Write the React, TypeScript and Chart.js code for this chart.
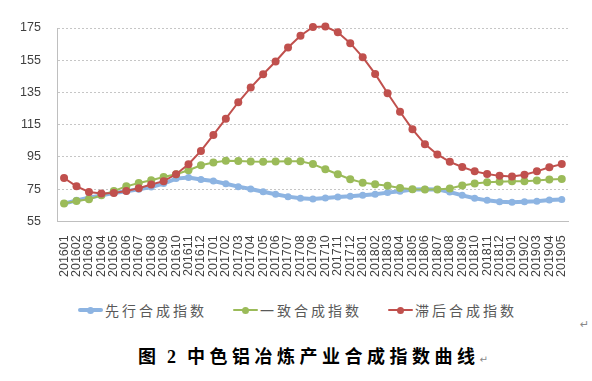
import React, { useEffect, useRef } from "react";
import { Chart, registerables } from "chart.js";

Chart.register(...registerables);

const months = [
  "201601", "201602", "201603", "201604", "201605", "201606", "201607", "201608", "201609", "201610", "201611", "201612",
  "201701", "201702", "201703", "201704", "201705", "201706", "201707", "201708", "201709", "201710", "201711", "201712",
  "201801", "201802", "201803", "201804", "201805", "201806", "201807", "201808", "201809", "201810", "201811", "201812",
  "201901", "201902", "201903", "201904", "201905",
];

const leadIndex = [
  66, 68, 69.7, 71.1, 72.6, 73.6, 74.9, 76.3, 78.4, 81.5, 82.2, 81, 80, 78.3, 76.5, 75, 73.3, 71.8, 70.3, 69.3,
  68.9, 69.5, 70.1, 70.5, 71.1, 71.8, 72.8, 73.6, 74.7, 74.9, 74.8, 73.2, 71.1, 69.3, 68, 67.2, 66.8, 67.1, 67.5, 68.2, 68.6,
];

const coincidentIndex = [
  66, 67.6, 68.7, 71.1, 73.8, 76.7, 78.8, 80.5, 82.5, 84.2, 86.7, 89.8, 91.5, 92.6, 92.4, 92.1, 92, 92.1, 92.3, 92.2,
  90.5, 87.3, 84.2, 81.1, 79, 78, 77, 75.7, 74.9, 74.7, 74.7, 75.3, 77.2, 78.4, 79.2, 79.6, 79.8, 79.8, 80.3, 80.9, 81.3,
];

const laggingIndex = [
  81.9, 76.7, 73.2, 72.2, 72.6, 73.8, 75.5, 77.8, 79.9, 84.2, 90.4, 98.7, 108.6, 118.7, 128.9, 138, 146.3, 154.2, 162.9, 170.2,
  175.6, 175.9, 172.3, 165.6, 156.9, 146.5, 134.5, 123, 112.1, 102.9, 96.5, 91.9, 88.7, 86, 84.4, 83.2, 82.8, 83.9, 86, 88.5, 90.5,
];

const seriesNames = ["先行合成指数", "一致合成指数", "滞后合成指数"];
const yMin = 55;
const yMax = 175;
const yStep = 20;
const captionHead = "图";
const captionNum = "2";
const captionBody = "中色铝冶炼产业合成指数曲线";

const BLUE = "#8db4e2";
const GREEN = "#9bbb59";
const RED = "#c0504d";

function LegendItem(props: { left: number; color: string; thick: number; label: string }) {
  const { left, color, thick, label } = props;
  return (
    <div style={{ position: "absolute", left, top: 300, height: 20, display: "flex", alignItems: "center" }}>
      <div style={{ position: "relative", width: 25, height: 20 }}>
        <div style={{ position: "absolute", left: 0, width: 25, top: 10 - thick / 2, height: thick, background: color, borderRadius: thick / 2 }} />
        <div style={{ position: "absolute", left: 12.5 - 3.5, top: 10 - 3.5, width: 7, height: 7, borderRadius: 4, background: color }} />
      </div>
      <span style={{ marginLeft: 2, fontFamily: '"Noto Sans CJK SC", sans-serif', fontSize: 14, letterSpacing: 3, color: "#595959", lineHeight: "20px", whiteSpace: "nowrap" }}>
        {label}
      </span>
    </div>
  );
}

export default function App() {
  const ref = useRef<HTMLCanvasElement>(null);

  useEffect(() => {
    const tickFont = { family: '"Liberation Sans", Arial, sans-serif', size: 12.5 };
    const chart = new Chart(ref.current!, {
      type: "line",
      data: {
        labels: months,
        datasets: [
          {
            label: seriesNames[0], data: leadIndex, borderColor: BLUE, backgroundColor: BLUE,
            borderWidth: 4, pointRadius: 3.5, pointBorderWidth: 0, pointBackgroundColor: BLUE, order: 2, clip: false as any,
          },
          {
            label: seriesNames[1], data: coincidentIndex, borderColor: GREEN, backgroundColor: GREEN,
            borderWidth: 2, pointRadius: 4, pointBorderWidth: 0, pointBackgroundColor: GREEN, order: 1, clip: false as any,
          },
          {
            label: seriesNames[2], data: laggingIndex, borderColor: RED, backgroundColor: RED,
            borderWidth: 2, pointRadius: 4, pointBorderWidth: 0, pointBackgroundColor: RED, order: 0, clip: false as any,
          },
        ],
      },
      options: {
        responsive: false,
        animation: false,
        layout: { padding: { top: 28, right: 24, bottom: 0, left: 3 } },
        plugins: { legend: { display: false }, tooltip: { enabled: false } },
        scales: {
          x: {
            offset: true,
            grid: { display: false, drawTicks: false },
            border: { display: true, color: "#bfbfbf", width: 1 },
            ticks: {
              autoSkip: false, maxRotation: 90, minRotation: 90, padding: 14,
              color: "#404040", font: tickFont,
            },
          },
          y: {
            min: yMin,
            max: yMax,
            grid: {
              drawTicks: false,
              lineWidth: 1,
              color: (ctx: any) => (ctx.tick && ctx.tick.value === yMin ? "rgba(0,0,0,0)" : "#c6c6c6"),
            },
            border: { display: true, color: "#bfbfbf", width: 1, dash: [2, 2] },
            ticks: { stepSize: yStep, padding: 17, color: "#404040", font: tickFont },
          },
        },
      },
    });
    return () => chart.destroy();
  }, []);

  const capStyle = { fontFamily: '"Liberation Serif", "Noto Sans CJK SC", serif', fontWeight: 700, fontSize: 18, color: "#000" } as const;

  return (
    <div style={{ position: "absolute", left: 0, top: 0, width: 592, height: 381, background: "#fff", overflow: "hidden" }}>
      <canvas ref={ref} width={592} height={291} style={{ position: "absolute", left: 0, top: 0, width: 592, height: 291 }} />
      <LegendItem left={78} color={BLUE} thick={4} label={seriesNames[0]} />
      <LegendItem left={233} color={GREEN} thick={2} label={seriesNames[1]} />
      <LegendItem left={388} color={RED} thick={2} label={seriesNames[2]} />
      <div style={{ position: "absolute", left: 580, top: 318, fontSize: 11, color: "#888", fontFamily: '"DejaVu Sans", sans-serif' }}>↵</div>
      <div style={{ position: "absolute", left: 138, top: 345, height: 24, lineHeight: "24px", whiteSpace: "pre" }}>
        <span style={{ ...capStyle, letterSpacing: 3.25 }}>{captionHead + " "}</span>
        <span style={{ ...capStyle, letterSpacing: 3.25 }}>{captionNum + " "}</span>
        <span style={{ ...capStyle, letterSpacing: 4.5 }}>{captionBody}</span>
        <span style={{ fontFamily: '"DejaVu Sans", sans-serif', fontSize: 10, color: "#888" }}>↵</span>
      </div>
    </div>
  );
}
